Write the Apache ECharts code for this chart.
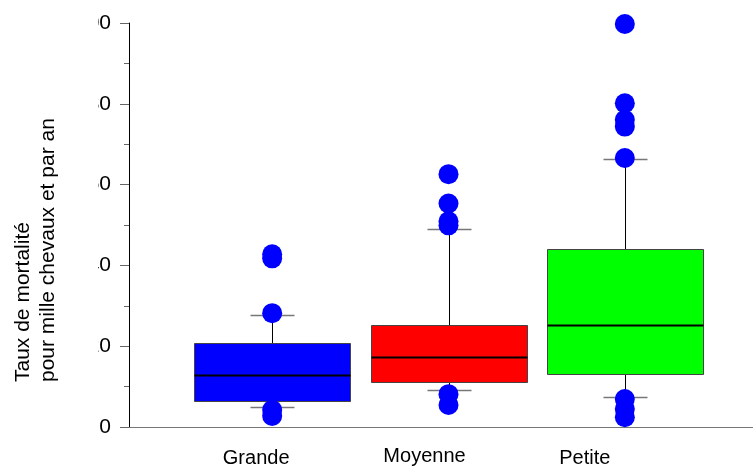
<!DOCTYPE html>
<html>
<head>
<meta charset="utf-8">
<script src="https://cdn.jsdelivr.net/npm/echarts@6/dist/echarts.min.js"></script>
<style>
html,body{margin:0;padding:0;background:#fff;}
#chart{width:753px;height:468px;}
</style>
</head>
<body>
<div id="chart"></div>
<script>
// ---- data ----
const categories = ['Grande', 'Moyenne', 'Petite'];
const lowerWhisker = [4.8, 9.0, 7.3];
const q1 = [6.3, 11.0, 13.0];
const median = [12.6, 17.2, 25.1];
const q3 = [20.5, 25.1, 43.8];
const upperWhisker = [27.5, 49.0, 66.2];
const outliersGrande = [42.6, 41.6, 28.0, 4.0, 2.5];
const outliersMoyenne = [62.5, 55.2, 50.8, 49.8, 7.9, 5.2];
const outliersPetite = [99.75, 80.1, 76.0, 74.3, 66.5, 6.7, 4.2, 2.2];
const yTicks = [0, 20, 40, 60, 80, 100];

// ---- styles ----
const boxColors = ['#0000ff', '#ff0000', '#00ff00'];
const labelShift = { Grande: 'g', Moyenne: 'm', Petite: 'p' };

const boxData = categories.map((c, i) => [i, lowerWhisker[i], q1[i], median[i], q3[i], upperWhisker[i]]);
const outlierData = [];
[outliersGrande, outliersMoyenne, outliersPetite].forEach((arr, i) => {
  arr.forEach(v => outlierData.push([i, v]));
});

const chart = echarts.init(document.getElementById('chart'));
const FONT = '"Liberation Sans", Arial, sans-serif';

chart.setOption({
  animation: false,
  backgroundColor: '#fff',
  grid: [
    { left: 184, right: 40, top: 23, bottom: 41 },
    { left: 129, right: 0, top: 23, bottom: 41 }
  ],
  xAxis: [
    {
      type: 'category', gridIndex: 0, data: categories,
      boundaryGap: true,
      axisLine: { show: false }, axisTick: { show: false },
      axisLabel: {
        margin: 20,
        formatter: v => '{' + labelShift[v] + '|' + v + '}',
        rich: {
          g: { fontSize: 20, fontFamily: FONT, color: '#000', padding: [2, 32, 0, 0] },
          m: { fontSize: 20, fontFamily: FONT, color: '#000', padding: [0, 48, 0, 0] },
          p: { fontSize: 20, fontFamily: FONT, color: '#000', padding: [2, 80, 0, 0] }
        }
      }
    },
    {
      type: 'value', gridIndex: 1, min: 0, max: 1,
      axisLine: { show: true, onZero: false, lineStyle: { color: '#777', width: 1 } },
      axisTick: { show: false }, axisLabel: { show: false }, splitLine: { show: false }
    }
  ],
  yAxis: [
    {
      type: 'value', gridIndex: 0, min: 0, max: 100, interval: 20,
      show: false
    },
    {
      type: 'value', gridIndex: 1, min: yTicks[0], max: yTicks[yTicks.length - 1], interval: 20,
      axisLine: { show: true, lineStyle: { color: '#000', width: 1 } },
      axisTick: { show: true, length: 9, lineStyle: { color: '#666' } },
      minorTick: { show: true, splitNumber: 2, length: 5, lineStyle: { color: '#666' } },
      splitLine: { show: false },
      axisLabel: { margin: 18, fontSize: 21, fontFamily: FONT, color: '#000', padding: [6, 0, 0, 0] }
    }
  ],
  graphic: [
    {
      type: 'rect', z: 100, silent: true,
      shape: { x: 66, y: 0, width: 32, height: 445 },
      style: { fill: '#fff' }
    },
    {
      type: 'text', z: 101, x: 11, y: 382, rotation: Math.PI / 2,
      style: {
        text: 'Taux de mortalité\npour mille chevaux et par an',
        fontSize: 21, fontFamily: FONT, fill: '#000',
        align: 'left', verticalAlign: 'top', lineHeight: 25
      }
    }
  ],
  series: [
    {
      type: 'custom', xAxisIndex: 0, yAxisIndex: 0, z: 2,
      data: boxData,
      encode: { x: 0, y: [1, 2, 3, 4, 5] },
      renderItem: function (params, api) {
        const idx = api.value(0);
        const band = api.size([1, 0])[0];
        const half = Math.round(band * 0.443);
        const cap = Math.round(band * 0.126);
        const cx = Math.round(api.coord([idx, 0])[0]) + 0.5;
        const y = v => Math.round(api.coord([idx, v])[1]) + 0.5;
        const yl = y(api.value(1)), yq1 = y(api.value(2)), ym = y(api.value(3)),
              yq3 = y(api.value(4)), yu = y(api.value(5));
        return {
          type: 'group',
          children: [
            { type: 'line', shape: { x1: cx, y1: yu, x2: cx, y2: yq3 }, style: { stroke: '#000', lineWidth: 1 } },
            { type: 'line', shape: { x1: cx, y1: yq1, x2: cx, y2: yl }, style: { stroke: '#000', lineWidth: 1 } },
            { type: 'line', shape: { x1: cx - cap, y1: yu, x2: cx + cap, y2: yu }, style: { stroke: '#777', lineWidth: 1.5 } },
            { type: 'line', shape: { x1: cx - cap, y1: yl, x2: cx + cap, y2: yl }, style: { stroke: '#777', lineWidth: 1.5 } },
            { type: 'rect', shape: { x: cx - half, y: yq3, width: 2 * half, height: yq1 - yq3 },
              style: { fill: boxColors[idx], stroke: '#444', lineWidth: 1 } },
            { type: 'line', shape: { x1: cx - half, y1: ym, x2: cx + half, y2: ym }, style: { stroke: '#000', lineWidth: 2 } }
          ]
        };
      }
    },
    {
      type: 'scatter', xAxisIndex: 0, yAxisIndex: 0, z: 5,
      data: outlierData,
      symbol: 'circle', symbolSize: 20, clip: false,
      itemStyle: { color: '#0000ff', opacity: 1 }
    }
  ]
});
</script>
</body>
</html>
